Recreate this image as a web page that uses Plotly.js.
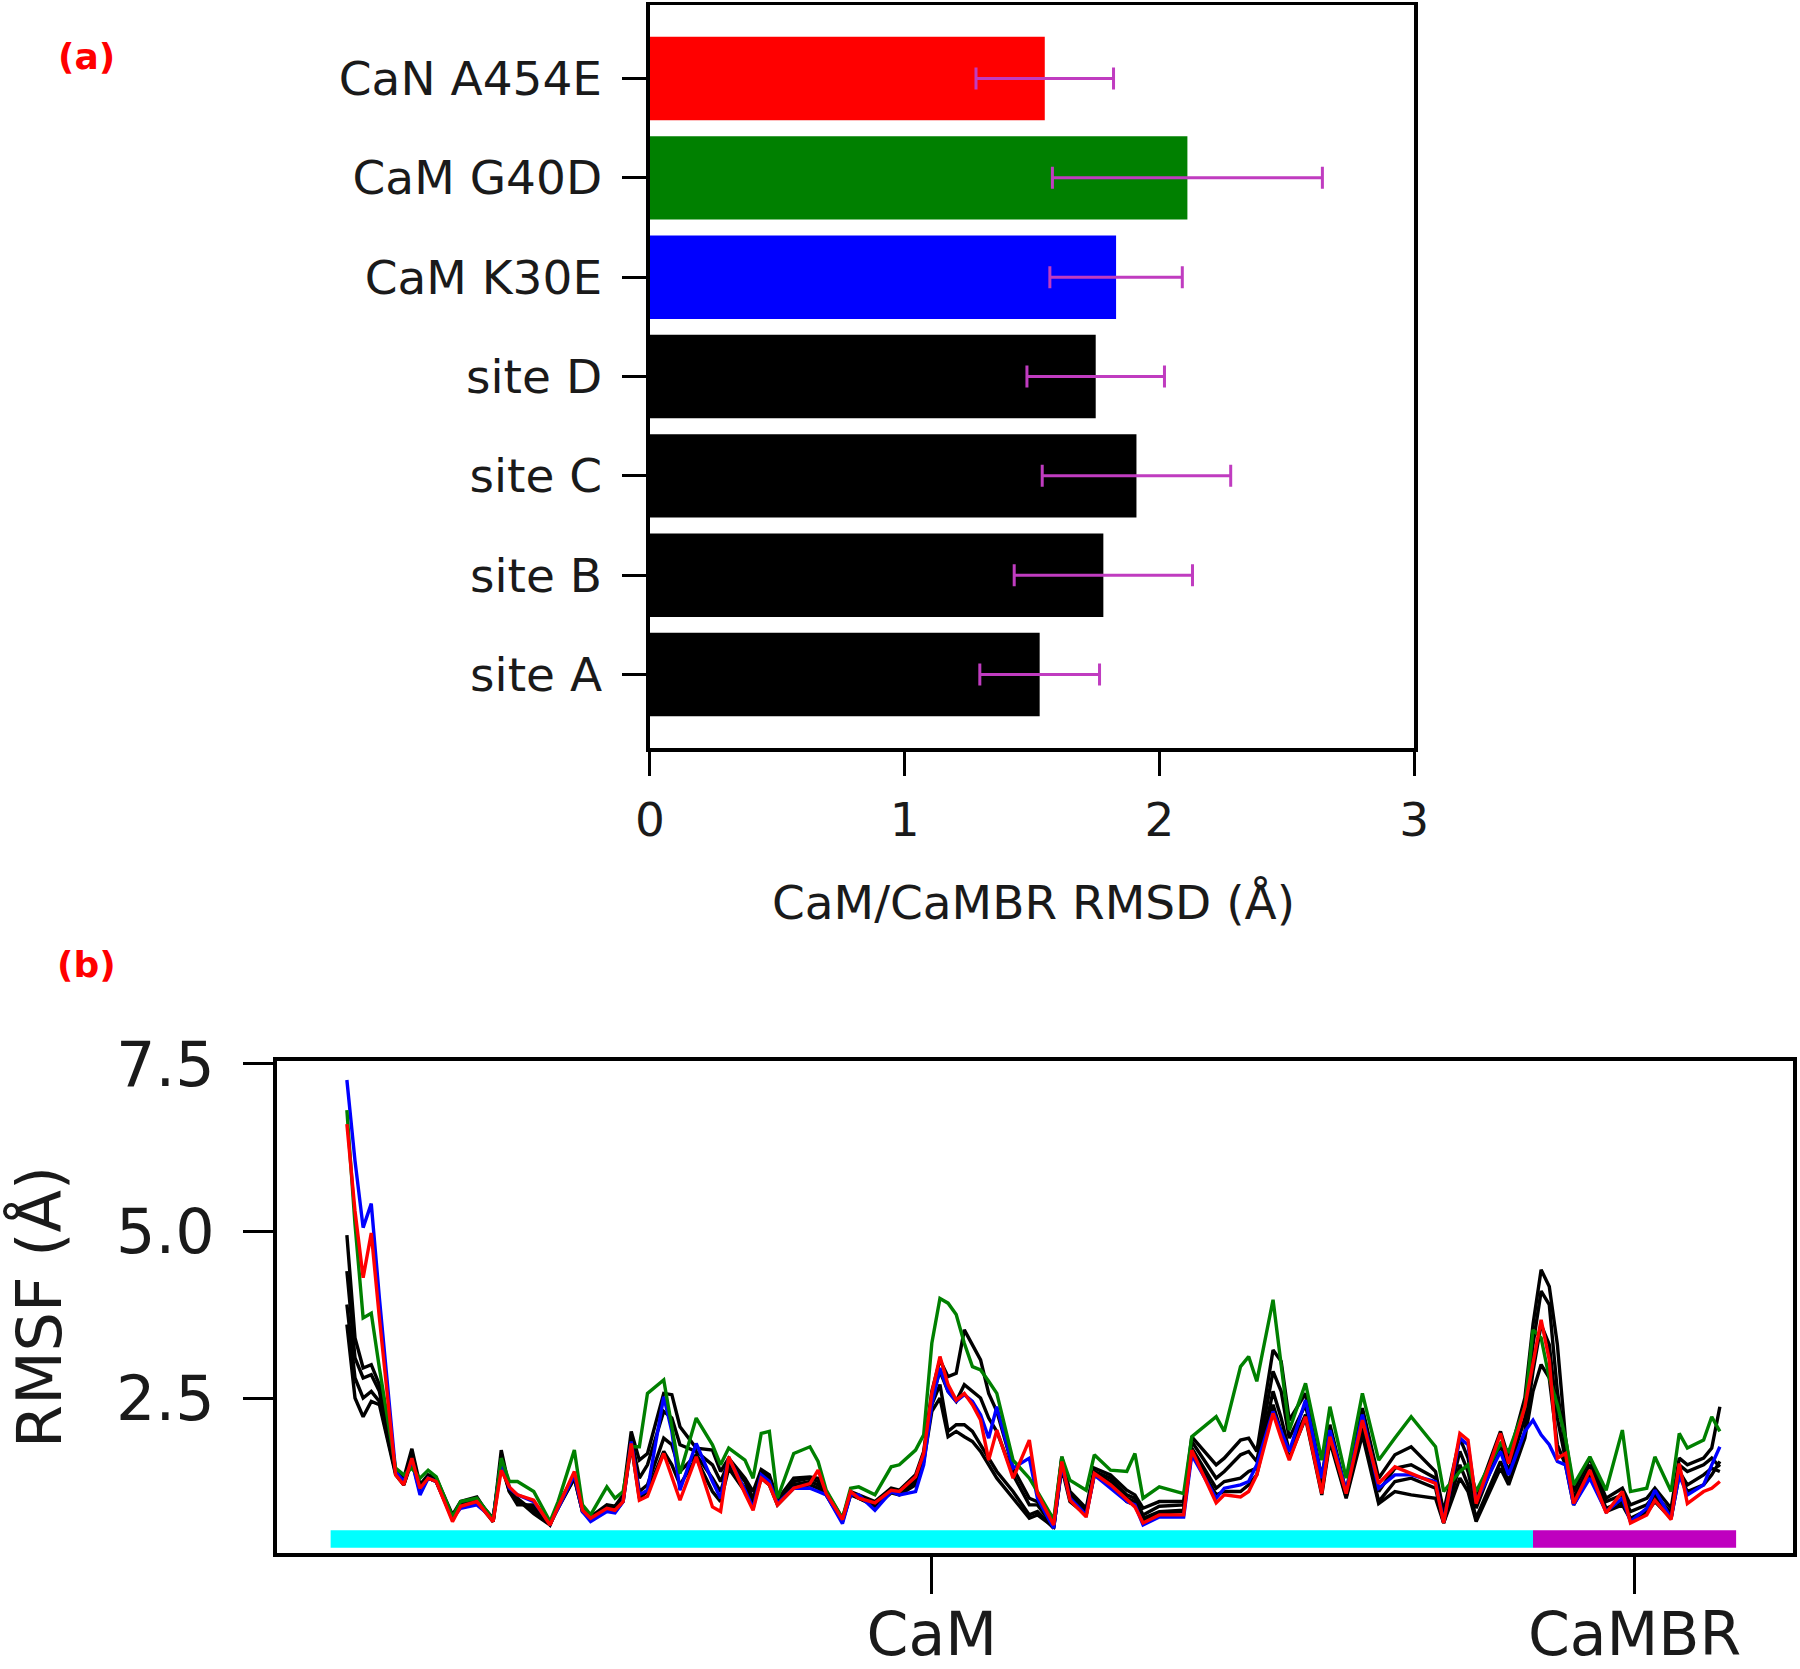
<!DOCTYPE html>
<html>
<head>
<meta charset="utf-8">
<script src="https://cdn.plot.ly/plotly-3.0.1.min.js"></script>
<style>
  html, body { margin: 0; padding: 0; background: #fff; }
  #fig { width: 1800px; height: 1669px; }
</style>
</head>
<body>
<div id="fig"></div>
<script>
// (a) CaM/CaMBR RMSD per system, bottom to top
var systems   = ['site A', 'site B', 'site C', 'site D', 'CaM K30E', 'CaM G40D', 'CaN A454E'];
var rmsdMean  = [1.53, 1.78, 1.91, 1.75, 1.83, 2.11, 1.55];
var rmsdErr   = [0.235, 0.35, 0.37, 0.27, 0.26, 0.53, 0.27];
var barColors = ['#000000', '#000000', '#000000', '#000000', '#0000ff', '#008000', '#ff0000'];

// (b) per-residue RMSF (Å)
var residue = [2,3,4,5,6,7,8,9,10,11,12,13,
  15,16,18,20,21,22,23,25,27,28,
  30,31,32,34,35,36,37,38,39,
  41,42,43,45,47,48,49,
  51,52,53,54,55,57,59,
  60,61,63,64,65,67,69,
  70,72,73,74,75,76,77,78,79,
  80,81,82,84,86,87,89,
  90,91,93,94,96,98,99,
  100,102,105,106,109,
  110,112,113,114,116,117,118,
  120,122,123,125,127,129,
  131,133,136,137,139,
  140,141,144,145,147,148,149,
  150,151,152,153,155,157,159,
  160,162,163,165,166,167,169,
  170,171];

var rmsfSiteA = [4.94,3.4,2.95,3.0,2.7,2.1,1.4,1.3,1.74,1.2,1.35,1.3,
  0.75,0.95,1.02,0.65,1.72,1.15,1.0,0.8,0.62,0.9,
  1.35,0.85,0.72,0.9,0.88,1.05,2.0,1.57,1.67,
  2.57,2.55,2.07,1.75,1.72,1.4,1.6,
  1.3,1.1,1.43,1.35,0.98,1.3,1.32,
  1.3,1.1,0.7,1.1,1.05,0.95,1.15,
  1.12,1.35,1.7,2.6,3.07,2.82,2.87,3.52,3.3,
  3.07,2.57,2.3,1.45,1.0,0.95,0.62,
  1.62,1.1,0.85,1.45,1.35,1.12,1.05,
  0.85,0.95,0.95,1.92,1.5,
  1.6,1.87,1.9,1.7,3.22,3.05,2.17,
  2.57,1.3,2.1,1.1,2.35,1.3,
  1.65,1.77,1.4,0.8,1.9,
  1.6,1.0,2.0,1.6,2.5,3.6,4.42,
  4.17,3.3,1.9,1.1,1.6,1.0,1.15,
  0.9,1.0,1.15,0.85,1.6,1.5,1.6,
  1.75,2.37];

var rmsfSiteB = [4.4,3.1,2.8,2.85,2.6,2.0,1.4,1.25,1.65,1.15,1.3,1.28,
  0.72,0.92,1.0,0.65,1.6,1.12,0.98,0.77,0.6,0.88,
  1.35,0.85,0.7,0.88,0.85,1.0,1.9,1.3,1.5,
  2.3,2.2,1.8,1.7,1.5,1.25,1.55,
  1.25,1.0,1.4,1.3,0.95,1.25,1.3,
  1.25,1.08,0.68,1.08,1.03,0.92,1.12,
  1.1,1.3,1.65,2.5,2.9,2.6,2.45,2.7,2.6,
  2.5,2.2,2.0,1.35,0.9,0.9,0.58,
  1.58,1.05,0.8,1.4,1.3,1.05,1.0,
  0.75,0.88,0.9,1.85,1.3,
  1.4,1.65,1.7,1.55,2.9,2.6,1.9,
  2.4,1.2,2.0,1.05,2.2,1.1,
  1.45,1.5,1.3,0.7,1.7,
  1.4,0.85,1.8,1.4,2.2,3.3,4.1,
  3.9,2.6,1.75,1.0,1.5,0.95,1.05,
  0.8,0.9,1.05,0.78,1.5,1.4,1.5,
  1.6,1.47];

var rmsfSiteC = [3.9,2.8,2.5,2.6,2.45,1.9,1.38,1.2,1.6,1.15,1.3,1.25,
  0.7,0.9,0.98,0.7,1.55,1.1,0.95,0.85,0.6,0.87,
  1.3,0.8,0.68,0.85,0.82,0.98,1.85,1.1,1.2,
  1.9,1.8,1.4,1.65,1.3,1.1,1.5,
  1.15,0.95,1.35,1.25,0.92,1.2,1.25,
  1.2,1.05,0.66,1.07,1.0,0.9,1.1,
  1.08,1.25,1.6,2.4,2.7,2.0,2.1,2.1,2.0,
  1.8,1.6,1.4,1.1,0.75,0.8,0.55,
  1.5,1.0,0.78,1.37,1.25,1.0,0.95,
  0.7,0.8,0.82,1.75,1.15,
  1.25,1.3,1.4,1.45,2.6,2.2,1.7,
  2.25,1.1,1.9,1.02,2.05,0.95,
  1.25,1.3,1.15,0.63,1.5,
  1.2,0.7,1.55,1.25,2.0,2.9,3.6,
  3.3,2.2,1.6,0.95,1.4,0.85,0.95,
  0.7,0.82,1.0,0.72,1.4,1.2,1.35,
  1.45,1.4];

var rmsfSiteD = [3.6,2.5,2.22,2.45,2.4,1.85,1.35,1.2,1.55,1.1,1.3,1.25,
  0.68,0.88,0.95,0.65,1.5,1.1,0.9,0.9,0.62,0.85,
  1.3,0.8,0.7,0.85,0.8,0.95,1.8,1.0,1.1,
  1.7,1.5,1.2,1.6,1.1,0.95,1.45,
  1.1,0.9,1.3,1.2,0.9,1.15,1.2,
  1.15,1.05,0.65,1.05,1.0,0.88,1.08,
  1.05,1.2,1.55,2.3,2.5,1.92,2.0,1.92,1.85,
  1.7,1.5,1.3,1.0,0.7,0.75,0.57,
  1.45,0.95,0.75,1.35,1.2,0.95,0.9,
  0.65,0.78,0.8,1.7,1.05,
  1.1,1.1,1.2,1.35,2.4,2.0,1.6,
  2.2,1.05,1.85,1.0,1.95,0.92,
  1.1,1.05,1.0,0.63,1.3,
  1.1,0.65,1.45,1.2,1.9,2.6,3.0,
  2.8,1.8,1.5,0.9,1.35,0.8,0.9,
  0.68,0.78,0.95,0.7,1.35,1.1,1.2,
  1.35,1.55];

var rmsfK30E = [7.26,6.05,5.05,5.41,4.0,2.7,1.4,1.25,1.55,1.05,1.3,1.25,
  0.7,0.85,0.9,0.7,1.55,1.15,1.05,0.95,0.62,0.85,
  1.35,0.8,0.65,0.8,0.78,0.95,1.85,1.05,1.12,
  2.52,2.0,1.12,1.82,1.25,1.0,1.6,
  1.12,0.85,1.35,1.25,0.92,1.15,1.15,
  1.1,1.05,0.62,1.05,1.05,0.82,1.1,
  1.05,1.1,1.5,2.4,2.95,2.6,2.45,2.55,2.45,
  2.25,1.9,2.37,1.45,1.6,1.0,0.55,
  1.5,1.0,0.75,1.35,1.15,0.95,0.9,
  0.6,0.72,0.72,1.65,1.0,
  1.15,1.2,1.25,1.5,2.3,2.0,1.7,
  2.47,1.3,2.02,1.1,2.25,1.15,
  1.35,1.35,1.25,0.65,1.9,
  1.8,0.95,1.7,1.35,2.0,2.17,1.95,
  1.8,1.55,1.5,0.9,1.3,0.8,1.0,
  0.65,0.85,1.12,0.7,1.35,1.05,1.2,
  1.5,1.77];

var rmsfG40D = [6.81,5.1,3.7,3.77,2.95,2.2,1.45,1.35,1.45,1.3,1.42,1.32,
  0.72,0.95,1.0,0.68,1.6,1.25,1.25,1.1,0.65,0.95,
  1.72,0.9,0.75,1.17,1.0,1.1,1.77,1.77,2.57,
  2.77,2.1,1.37,2.2,1.8,1.5,1.75,
  1.57,1.3,1.97,2.0,1.0,1.67,1.77,
  1.55,1.12,0.7,1.15,1.17,1.05,1.47,
  1.5,1.72,1.95,3.32,3.99,3.92,3.75,3.32,2.97,
  2.92,2.75,2.57,1.57,1.3,1.1,0.68,
  1.62,1.27,1.12,1.65,1.42,1.4,1.67,
  1.0,1.17,1.07,1.92,2.22,
  2.0,2.97,3.12,2.75,3.97,3.0,2.02,
  2.72,1.57,2.37,1.3,2.57,1.57,
  1.9,2.22,1.77,1.1,1.4,
  1.5,1.1,1.82,1.7,2.37,3.52,3.4,
  2.8,2.4,1.9,1.2,1.62,1.12,2.02,
  1.1,1.15,1.62,1.1,1.97,1.75,1.87,
  2.22,2.0];

var rmsfA454E = [6.6,5.3,4.3,4.97,3.7,2.5,1.35,1.2,1.6,1.15,1.3,1.25,
  0.65,0.88,0.95,0.65,1.42,1.17,1.05,0.97,0.6,0.87,
  1.4,0.82,0.7,0.85,0.82,0.95,1.82,0.97,1.03,
  1.67,1.3,0.97,1.62,0.87,0.8,1.62,
  1.07,0.82,1.3,1.2,0.9,1.15,1.22,
  1.42,1.07,0.68,1.1,1.0,0.93,1.12,
  1.1,1.32,1.67,2.57,3.12,2.7,2.47,2.57,2.4,
  2.17,1.57,2.02,1.3,1.87,1.07,0.6,
  1.55,0.97,0.72,1.37,1.2,0.97,0.87,
  0.63,0.75,0.75,1.72,0.93,
  1.05,1.02,1.1,1.35,2.27,1.9,1.57,
  2.22,1.07,1.92,1.07,2.17,1.22,
  1.47,1.37,1.22,0.63,1.97,
  1.87,0.92,1.97,1.52,2.37,3.0,3.67,
  3.07,1.6,1.67,0.92,1.42,0.78,1.1,
  0.63,0.75,0.97,0.68,1.52,0.92,1.1,
  1.15,1.25];

// sequence segments shown as a coloured strip under the RMSF lines
var segNames  = ['CaM', 'CaMBR'];
var segStart  = [0, 148];
var segEnd    = [148, 173];
var segColors = ['#00ffff', '#bf00bf'];

var traces = [];

traces.push({
  type: 'bar',
  orientation: 'h',
  y: systems,
  x: rmsdMean,
  width: 0.84,
  marker: { color: barColors, line: { width: 0 } },
  error_x: { type: 'data', array: rmsdErr, visible: true, color: '#c03cc0', thickness: 3, width: 11 },
  xaxis: 'x',
  yaxis: 'y',
  hoverinfo: 'skip'
});

for (var s = 0; s < segNames.length; s++) {
  traces.push({
    type: 'bar',
    orientation: 'h',
    y: [0.39],
    x: [segEnd[s] - segStart[s]],
    base: [segStart[s]],
    width: 0.26,
    marker: { color: segColors[s], line: { width: 0 } },
    xaxis: 'x2',
    yaxis: 'y2',
    hoverinfo: 'skip'
  });
}

var rmsfSeries = [
  { y: rmsfSiteA, color: '#000000' },
  { y: rmsfSiteB, color: '#000000' },
  { y: rmsfSiteC, color: '#000000' },
  { y: rmsfSiteD, color: '#000000' },
  { y: rmsfK30E,  color: '#0000ff' },
  { y: rmsfG40D,  color: '#008000' },
  { y: rmsfA454E, color: '#ff0000' }
];

for (var i = 0; i < rmsfSeries.length; i++) {
  traces.push({
    type: 'scatter',
    mode: 'lines',
    x: residue,
    y: rmsfSeries[i].y,
    line: { color: rmsfSeries[i].color, width: 3.4 },
    xaxis: 'x2',
    yaxis: 'y2',
    hoverinfo: 'skip'
  });
}

var segTicks = [];
for (var k = 0; k < segNames.length; k++) {
  segTicks.push((segStart[k] + segEnd[k]) / 2);
}

var textColor = '#1a1a1a';

var layout = {
  width: 1800,
  height: 1669,
  margin: { l: 0, r: 0, t: 0, b: 0 },
  paper_bgcolor: '#ffffff',
  plot_bgcolor: '#ffffff',
  showlegend: false,
  barmode: 'overlay',
  font: { family: 'DejaVu Sans', color: textColor },
  xaxis: {
    domain: [0.3611, 0.7856],
    anchor: 'y',
    range: [0, 3],
    tick0: 0,
    dtick: 1,
    showline: true, mirror: true, linecolor: '#000000', linewidth: 3.5,
    ticks: 'outside', ticklen: 24, tickwidth: 3, tickcolor: '#000000',
    showgrid: false, zeroline: false,
    tickfont: { size: 47, color: textColor },
    ticklabelstandoff: 4
  },
  yaxis: {
    domain: [0.5518, 0.997],
    anchor: 'x',
    type: 'category',
    range: [-0.74, 6.74],
    showline: true, mirror: true, linecolor: '#000000', linewidth: 3.5,
    ticks: 'outside', ticklen: 24, tickwidth: 3, tickcolor: '#000000',
    showgrid: false, zeroline: false,
    tickfont: { size: 47, color: textColor },
    ticklabelstandoff: 11
  },
  xaxis2: {
    domain: [0.1539, 0.9961],
    anchor: 'y2',
    range: [-6.6, 180],
    tickvals: segTicks,
    ticktext: segNames,
    showline: true, mirror: true, linecolor: '#000000', linewidth: 4,
    ticks: 'outside', ticklen: 37, tickwidth: 3, tickcolor: '#000000',
    showgrid: false, zeroline: false,
    tickfont: { size: 60, color: textColor },
    ticklabelstandoff: -11
  },
  yaxis2: {
    domain: [0.0695, 0.3643],
    anchor: 'x2',
    range: [0.18, 7.545],
    tick0: 0,
    dtick: 2.5,
    tickformat: '.1f',
    showline: true, mirror: true, linecolor: '#000000', linewidth: 4,
    ticks: 'outside', ticklen: 30, tickwidth: 3, tickcolor: '#000000',
    showgrid: false, zeroline: false,
    tickfont: { size: 62, color: textColor },
    ticklabelstandoff: 16
  },
  annotations: [
    { text: '<b>(a)</b>', xref: 'paper', yref: 'paper', x: 0.0478, y: 0.966,
      xanchor: 'center', yanchor: 'middle', showarrow: false,
      font: { size: 36, color: '#ff0000' } },
    { text: '<b>(b)</b>', xref: 'paper', yref: 'paper', x: 0.0478, y: 0.4224,
      xanchor: 'center', yanchor: 'middle', showarrow: false,
      font: { size: 36, color: '#ff0000' } },
    { text: 'CaM/CaMBR RMSD (Å)', xref: 'paper', yref: 'paper', x: 0.574, y: 0.459,
      xanchor: 'center', yanchor: 'middle', showarrow: false,
      font: { size: 47, color: textColor } },
    { text: 'RMSF (Å)', xref: 'paper', yref: 'paper', x: 0.0222, y: 0.2169,
      xanchor: 'center', yanchor: 'middle', showarrow: false, textangle: -90,
      font: { size: 62, color: textColor } }
  ]
};

Plotly.newPlot('fig', traces, layout, { staticPlot: true });
</script>
</body>
</html>
